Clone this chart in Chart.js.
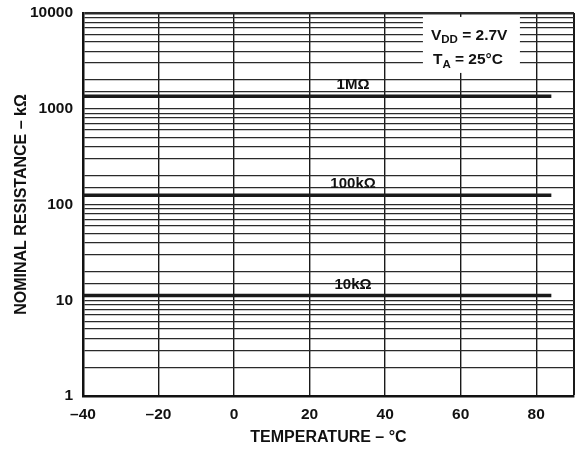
<!DOCTYPE html>
<html><head><meta charset="utf-8">
<script src="https://cdn.jsdelivr.net/npm/chart.js@4"></script>
<style>html,body{margin:0;padding:0;background:#fff;}canvas{display:block;}</style>
</head><body>
<canvas id="c" width="584" height="450"></canvas>
<script>
const temperatures = [-40, 84];
const seriesNames = ['1MΩ', '100kΩ', '10kΩ'];
const series1M = [1350, 1350];
const series100k = [125, 125];
const series10k = [11.2, 11.2];
const xTicks = [-40, -20, 0, 20, 40, 60, 80];
const yTicks = [1, 10, 100, 1000, 10000];
const labelTemp = 31.5;

const FONT = '"Liberation Sans", Arial, sans-serif';

function mk(name, vals) {
  return {
    label: name,
    data: temperatures.map((t, i) => ({x: t, y: vals[i]})),
    borderColor: '#1a1a1a', borderWidth: 3.5, pointRadius: 0, showLine: true, fill: false, tension: 0
  };
}

const overlay = {
  id: 'overlay',
  afterDatasetsDraw(chart) {
    const {ctx, scales: {x, y}} = chart;
    ctx.save();
    ctx.fillStyle = '#111';
    ctx.font = 'bold 15px ' + FONT;
    ctx.textAlign = 'center';
    ctx.textBaseline = 'alphabetic';
    chart.data.datasets.forEach(ds => {
      const py = y.getPixelForValue(ds.data[0].y);
      ctx.fillText(ds.label, x.getPixelForValue(labelTemp), py - 7);
    });
    // condition box
    const bx = x.getPixelForValue(50), by = y.getPixelForValue(9100);
    const bw = 97, bh = 56;
    ctx.fillStyle = '#fff';
    ctx.fillRect(bx, by, bw, bh);
    ctx.fillStyle = '#111';
    ctx.textAlign = 'left';
    let cx = bx + 8;
    ctx.font = 'bold 15.5px ' + FONT;
    ctx.fillText('V', cx, by + 23); cx += ctx.measureText('V').width;
    ctx.font = 'bold 11.5px ' + FONT;
    ctx.fillText('DD', cx, by + 26); cx += ctx.measureText('DD').width;
    ctx.font = 'bold 15.5px ' + FONT;
    ctx.fillText(' = 2.7V', cx, by + 23);
    cx = bx + 10;
    ctx.fillText('T', cx, by + 47); cx += ctx.measureText('T').width;
    ctx.font = 'bold 11.5px ' + FONT;
    ctx.fillText('A', cx, by + 51); cx += ctx.measureText('A').width;
    ctx.font = 'bold 15.5px ' + FONT;
    ctx.fillText(' = 25°C', cx, by + 47);
    ctx.restore();
  }
};

new Chart(document.getElementById('c'), {
  type: 'scatter',
  data: { datasets: [mk(seriesNames[0], series1M), mk(seriesNames[1], series100k), mk(seriesNames[2], series10k)] },
  options: {
    responsive: false, animation: false,
    layout: { padding: { left: 0, right: 10, top: 13, bottom: 0 } },
    plugins: { legend: { display: false }, tooltip: { enabled: false } },
    scales: {
      x: {
        type: 'linear', min: -40, max: 90,
        afterBuildTicks(s) { s.ticks = xTicks.concat([90]).map(v => ({value: v})); },
        afterFit(s) { s.height = 54; s.paddingLeft = 0; s.paddingRight = 0; },
        ticks: {
          color: '#111', padding: 9, maxRotation: 0, autoSkip: false,
          font: { family: FONT, weight: 'bold', size: 15.5 },
          callback: v => xTicks.includes(v) ? (v < 0 ? '–' + Math.abs(v) : String(v)) : ''
        },
        grid: { color: '#1a1a1a', lineWidth: c => (c.tick && c.tick.value === 90) ? 2 : 1.4, drawTicks: false },
        border: { display: true, color: '#111', width: 2.5 },
        title: { display: true, text: 'TEMPERATURE – °C', color: '#111', padding: { top: 0, bottom: 3 },
          font: { family: FONT, weight: 'bold', size: 16 } }
      },
      y: {
        type: 'logarithmic', min: 1, max: 10000,
        afterFit(s) { s.width = 83; s.paddingTop = 0; s.paddingBottom = 0; },
        ticks: {
          color: '#111', padding: 10, autoSkip: false,
          font: { family: FONT, weight: 'bold', size: 15.5 },
          callback: v => yTicks.includes(v) ? String(v) : ''
        },
        grid: { color: '#2a2a2a', lineWidth: c => (c.tick && c.tick.value === 10000) ? 2.5 : 1.2, drawTicks: false },
        border: { display: true, color: '#111', width: 2.5 },
        title: { display: true, text: 'NOMINAL RESISTANCE – kΩ', color: '#111', padding: { top: 12, bottom: 0 },
          font: { family: FONT, weight: 'bold', size: 16 } }
      }
    }
  },
  plugins: [overlay]
});
</script>
</body></html>
